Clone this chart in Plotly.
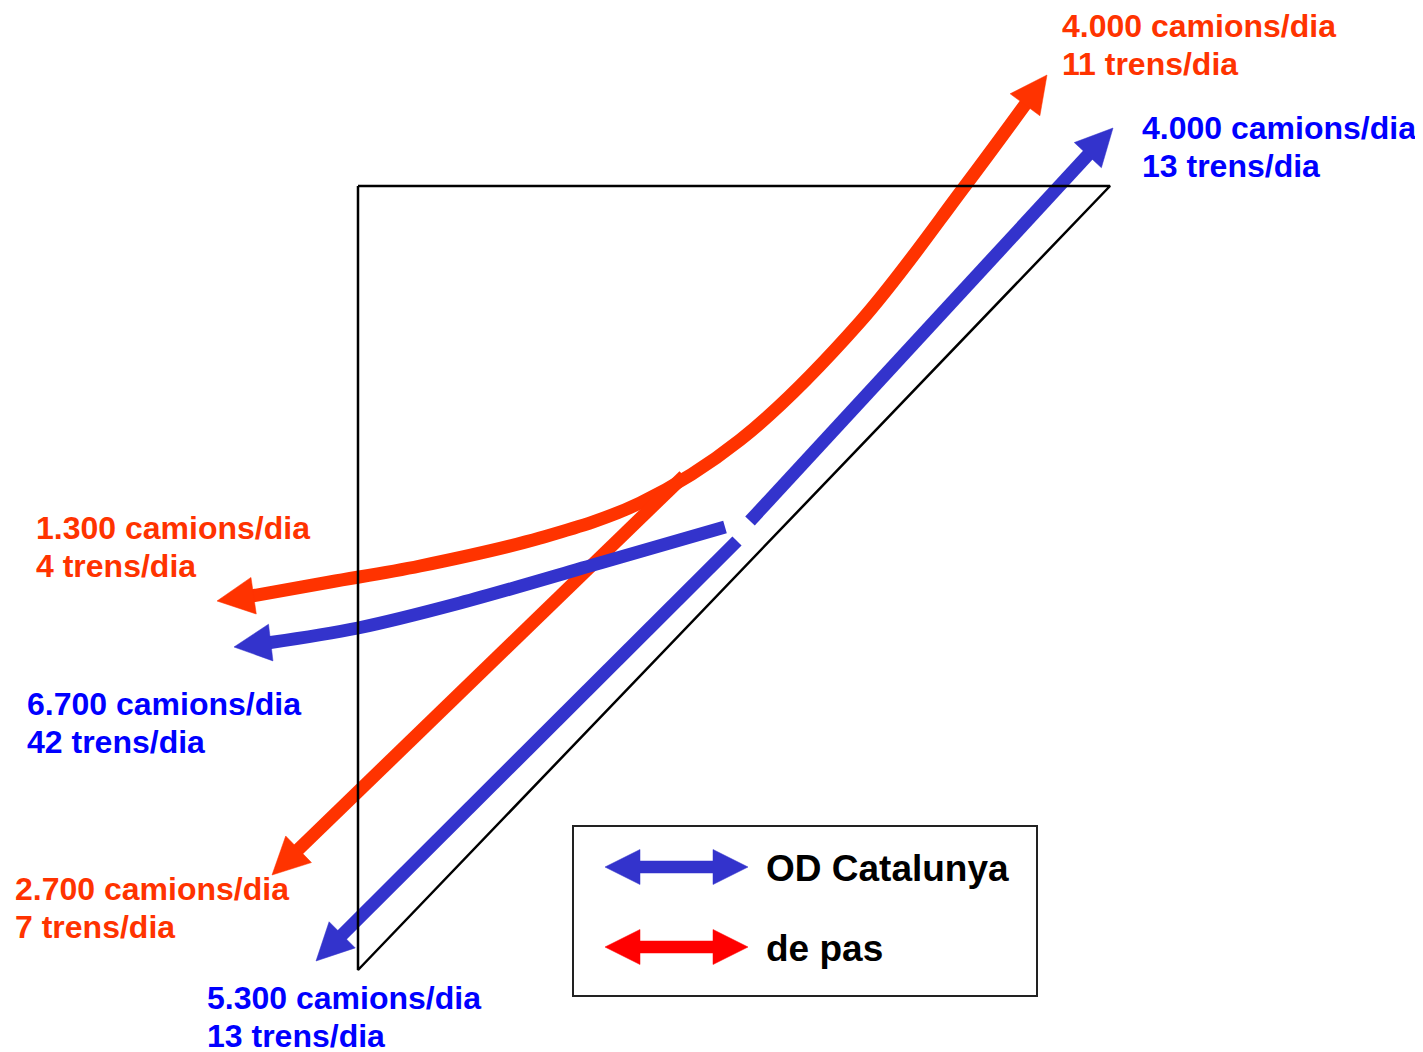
import numpy as np
import plotly.graph_objects as go

# ---------------- data ----------------
flow_type = ["de pas", "OD Catalunya", "de pas", "OD Catalunya", "de pas", "OD Catalunya"]
camions = [4000, 4000, 1300, 6700, 2700, 5300]
trens = [11, 13, 4, 42, 7, 13]
legend_names = ["OD Catalunya", "de pas"]

# ---------------- styling / layout ----------------
W, H = 1423, 1052
OFF = 8  # page body margin
RED_LINE = "#FF3300"
BLUE_LINE = "#3333CC"
RED_TEXT = "#FF3300"
BLUE_TEXT = "#0000FF"
LEG_COL = {"OD Catalunya": "#3333CC", "de pas": "#FF0000"}
FONT = "Liberation Sans, Arial, sans-serif"
SHAFT = 13

# label anchor positions (left x, first-line centre y)
label_pos = [(1062, 26), (1142, 128), (36, 528), (27, 704), (15, 889), (207, 998)]

fig = go.Figure()


def head(tip, ref, L=37, Wd=18.5):
    tip = np.array(tip, float)
    ref = np.array(ref, float)
    u = tip - ref
    u /= np.hypot(*u)
    n = np.array([-u[1], u[0]])
    base = tip - u * L
    p1 = base + n * Wd
    p2 = base - n * Wd
    return base + u * 2, [tip[0], p1[0], p2[0], tip[0]], [tip[1], p1[1], p2[1], tip[1]]


def add_poly(xs, ys, color):
    fig.add_trace(go.Scatter(x=xs, y=ys, mode="lines", fill="toself", fillcolor=color,
                             line=dict(color=color, width=0.5), hoverinfo="skip", showlegend=False))


def add_line(xs, ys, color, width=SHAFT, spline=False, smoothing=1.0):
    fig.add_trace(go.Scatter(x=xs, y=ys, mode="lines",
                             line=dict(color=color, width=width, shape="spline" if spline else "linear",
                                       smoothing=smoothing),
                             hoverinfo="skip", showlegend=False))


# --- red curve (de pas): top-right  <->  left
b1, hx1, hy1 = head((1047, 75), (965, 186))
b2, hx2, hy2 = head((217, 601), (300, 589))
rc_x = [b1[0], 965, 860, 740, 640, 540, 420, 330, b2[0]]
rc_y = [b1[1], 186, 322, 440, 503, 538, 566, 582, b2[1]]
add_line(rc_x, rc_y, RED_LINE, spline=True, smoothing=1.0)
add_poly(hx1, hy1, RED_LINE)
add_poly(hx2, hy2, RED_LINE)

# --- red straight branch: to bottom-left
b3, hx3, hy3 = head((272, 875), (682, 478))
add_line([684, b3[0]], [476, b3[1]], RED_LINE)
add_poly(hx3, hy3, RED_LINE)

# --- blue curve (OD Catalunya): from gap to left
b4, hx4, hy4 = head((234, 647), (300, 639))
bc_x = [725, 600, 460, 358, b4[0]]
bc_y = [527, 563, 603, 628, b4[1]]
add_line(bc_x, bc_y, BLUE_LINE, spline=True, smoothing=1.0)
add_poly(hx4, hy4, BLUE_LINE)

# --- blue main line: bottom-left <-> top-right, with gap
b5, hx5, hy5 = head((1113, 128), (817, 447))
b6, hx6, hy6 = head((316, 961), (597, 680))
add_line([750, b5[0]], [521, b5[1]], BLUE_LINE)
add_line([737, b6[0]], [541, b6[1]], BLUE_LINE)
add_poly(hx5, hy5, BLUE_LINE)
add_poly(hx6, hy6, BLUE_LINE)

# --- black triangle outline (on top)
fig.add_trace(go.Scatter(x=[358, 1110, 358, 358], y=[186, 186, 970, 186], mode="lines",
                         line=dict(color="black", width=2.5), hoverinfo="skip", showlegend=False))

# --- legend box
fig.add_shape(type="rect", x0=573, y0=826, x1=1037, y1=996, line=dict(color="#222222", width=2),
              fillcolor="rgba(0,0,0,0)", layer="above")
leg_y = [867, 947]
for name, yy in zip(legend_names, leg_y):
    col = LEG_COL[name]
    xs = [605, 640, 640, 713, 713, 748, 713, 713, 640, 640, 605]
    ys = [yy, yy - 17.5, yy - 6, yy - 6, yy - 17.5, yy, yy + 17.5, yy + 6, yy + 6, yy + 17.5, yy]
    add_poly(xs, ys, col)
    fig.add_annotation(x=764, y=yy + 1, text=f"<b>{name}</b>", showarrow=False, xanchor="left",
                       yanchor="middle", font=dict(family=FONT, size=37, color="black"))

# --- flow labels
for t, c, tr, (lx, ly) in zip(flow_type, camions, trens, label_pos):
    col = RED_TEXT if t == "de pas" else BLUE_TEXT
    cam = f"{c:,}".replace(",", ".")
    lines = [f"{cam} camions/dia", f"{tr} trens/dia"]
    for i, s in enumerate(lines):
        fig.add_annotation(x=lx - 2, y=ly + i * 38, text=f"<b>{s}</b>", showarrow=False,
                           xanchor="left", yanchor="middle",
                           font=dict(family=FONT, size=32, color=col))

fig.update_layout(
    width=W, height=H, autosize=False,
    margin=dict(l=0, r=0, t=0, b=0),
    paper_bgcolor="white", plot_bgcolor="white",
    xaxis=dict(range=[OFF, W + OFF], visible=False, fixedrange=True),
    yaxis=dict(range=[H + OFF, OFF], visible=False, fixedrange=True),
    showlegend=False,
)

fig.write_html("out.html", config={"displayModeBar": False})
